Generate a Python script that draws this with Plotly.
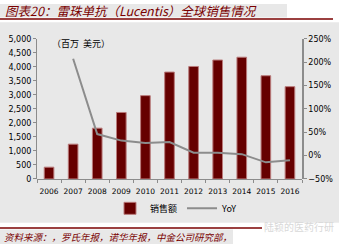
import plotly.graph_objects as go

years = ["2006", "2007", "2008", "2009", "2010", "2011", "2012", "2013", "2014", "2015", "2016"]
sales = [420, 1240, 1810, 2370, 2970, 3810, 4010, 4240, 4340, 3680, 3290]
yoy = [None, 2.07, 0.46, 0.32, 0.27, 0.29, 0.06, 0.06, 0.03, -0.145, -0.10]

W, H = 341, 249
def px(x): return x / W
def py(y): return 1 - y / H

fig = go.Figure()
fig.add_trace(go.Bar(
    x=years, y=sales, name="销售额", width=0.4,
    marker=dict(color="#660000", line=dict(color="#b97a7a", width=1)),
    yaxis="y",
))
fig.add_trace(go.Scatter(
    x=years, y=yoy, name="YoY", mode="lines",
    line=dict(color="#8c8c8c", width=2), yaxis="y2", connectgaps=False,
))

shapes = [
    dict(type="rect", xref="paper", yref="paper", x0=px(0), x1=px(287), y0=py(0), y1=py(14),
         fillcolor="#e8e8e8", line=dict(width=0), layer="below"),
    dict(type="line", xref="paper", yref="paper", x0=px(0), x1=px(333), y0=py(15.5), y1=py(15.5),
         line=dict(color="#7a0000", width=1.5)),
    dict(type="rect", xref="paper", yref="paper", x0=px(0), x1=px(339), y0=py(19), y1=py(227),
         fillcolor="#e8e8e8", line=dict(width=0), layer="below"),
    dict(type="line", xref="paper", yref="paper", x0=px(0), x1=px(262), y0=py(232.5), y1=py(232.5),
         line=dict(color="#7a0000", width=1.5)),
    dict(type="rect", xref="paper", yref="paper", x0=px(0), x1=px(233), y0=py(234), y1=py(249),
         fillcolor="#e8e8e8", line=dict(width=0), layer="below"),
]

annotations = [
    dict(text="<i>图表20：雷珠单抗（Lucentis）全球销售情况</i>", xref="paper", yref="paper",
         x=px(3), y=py(7), xanchor="left", yanchor="middle", showarrow=False,
         font=dict(family="Noto Sans CJK SC", size=12.5, color="#7a0000")),
    dict(text="（百万  美元）", xref="paper", yref="paper",
         x=px(50), y=py(40.5), xanchor="left", yanchor="middle", showarrow=False,
         font=dict(family="Noto Sans CJK SC", size=9, color="#000000")),
    dict(text="<i>资料来源：，罗氏年报，诺华年报，中金公司研究部，</i>", xref="paper", yref="paper",
         x=px(2), y=py(241.5), xanchor="left", yanchor="middle", showarrow=False,
         font=dict(family="Noto Sans CJK SC", size=9.5, color="#7a0000")),
    dict(text="陆颖的医药行研", xref="paper", yref="paper",
         x=px(262), y=py(231), xanchor="left", yanchor="middle", showarrow=False,
         font=dict(family="Noto Sans CJK SC", size=10, color="#d8d8d8")),
]

fig.update_layout(
    width=W, height=H,
    margin=dict(l=0, r=0, t=0, b=0),
    paper_bgcolor="white",
    plot_bgcolor="rgba(0,0,0,0)",
    shapes=shapes,
    annotations=annotations,
    showlegend=True,
    legend=dict(orientation="h", x=px(110), y=py(212), xanchor="left", yanchor="middle",
                bgcolor="rgba(0,0,0,0)", font=dict(family="Noto Sans CJK SC", size=9, color="#000"),
                itemwidth=30, tracegroupgap=0),
    xaxis=dict(domain=[px(37), px(302)], type="category", showgrid=False,
               showline=True, linecolor="#8c8c8c", linewidth=1,
               ticks="outside", tickson="boundaries", ticklen=3, tickcolor="#8c8c8c",
               tickangle=0, ticklabelstandoff=5,
               tickfont=dict(family="DejaVu Sans", size=7.5, color="#000"),
               anchor="free", position=py(181.5)),
    yaxis=dict(domain=[py(181.5), py(36)], range=[0, 5000], dtick=500, tickformat=",",
               showgrid=False, zeroline=False, showline=True, linecolor="#8c8c8c",
               ticks="outside", ticklen=3, tickcolor="#8c8c8c",
               tickfont=dict(family="DejaVu Sans", size=8, color="#000")),
    yaxis2=dict(domain=[py(181.5), py(36)], range=[-0.5, 2.5], dtick=0.5, tickformat=".0%",
                overlaying="y", side="right", anchor="x",
                showgrid=False, zeroline=False, showline=True, linecolor="#8c8c8c", linewidth=1.5,
                ticks="outside", ticklen=3, tickcolor="#8c8c8c",
                tickfont=dict(family="DejaVu Sans", size=8, color="#000")),
    bargap=0.6,
)

fig.write_html("out.html")
